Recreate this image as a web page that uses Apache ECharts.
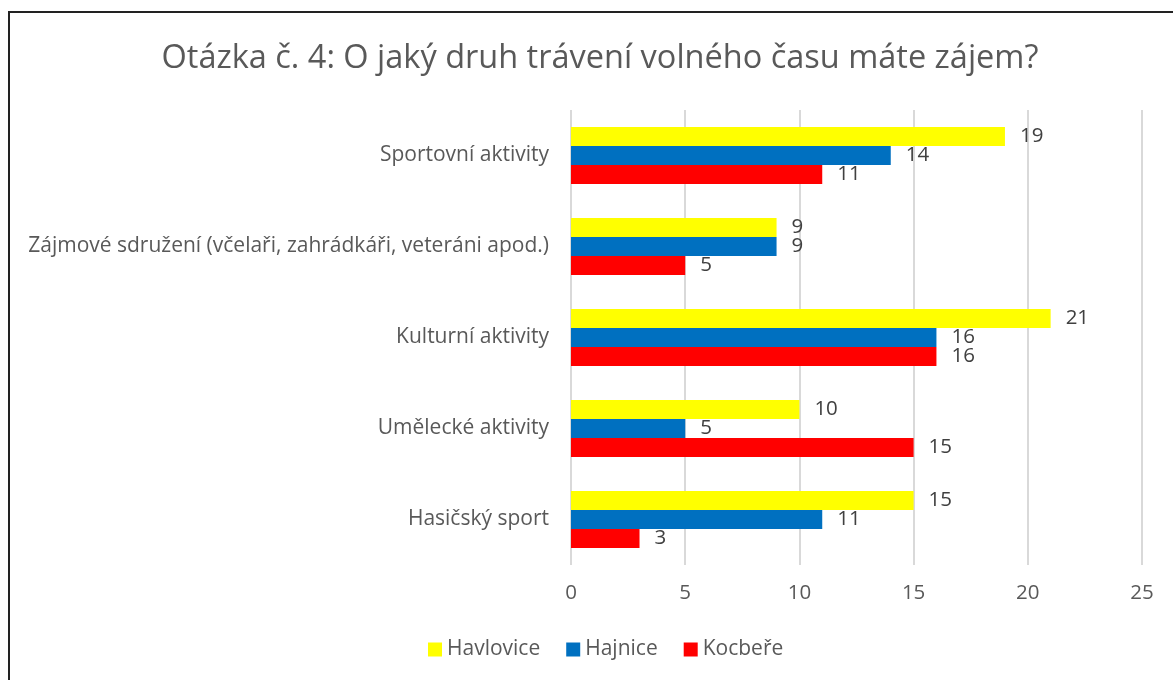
<!DOCTYPE html>
<html>
<head>
<meta charset="utf-8">
<script src="https://cdn.jsdelivr.net/npm/echarts@6/dist/echarts.min.js"></script>
<style>
  html, body { margin: 0; padding: 0; background: #fff; }
  #frame {
    position: absolute; left: 8px; top: 11px; width: 1200px; height: 700px;
    border-left: 2px solid #222; border-top: 2px solid #222;
  }
  #chart { position: absolute; left: 0; top: 0; width: 1173px; height: 680px; }
</style>
</head>
<body>
<div id="frame"></div>
<div id="chart"></div>
<script>
const categories = [
  'Sportovní aktivity',
  'Zájmové sdružení (včelaři, zahrádkáři, veteráni apod.)',
  'Kulturní aktivity',
  'Umělecké aktivity',
  'Hasičský sport'
]
const havlovice = [19, 9, 21, 10, 15]
const hajnice = [14, 9, 16, 5, 11]
const kocbere = [11, 5, 16, 15, 3]

const FONT = '"Open Sans", "Noto Sans", sans-serif'
const TEXT = '#595959'

const chart = echarts.init(document.getElementById('chart'))

const mkSeries = (name, data, color) => ({
  name,
  type: 'bar',
  data,
  barWidth: 19,
  barGap: '0%',
  itemStyle: { color },
  label: {
    show: true,
    position: 'right',
    distance: 15,
    color: '#404040',
    fontSize: 20.5,
    fontFamily: FONT
  }
})

chart.setOption({
  animation: false,
  textStyle: { fontFamily: FONT },
  title: {
    text: 'Otázka č. 4: O jaký druh trávení volného času máte zájem?',
    left: 595,
    top: 37,
    textAlign: 'center',
    textStyle: { color: TEXT, fontSize: 32.5, fontWeight: 'normal', fontFamily: FONT }
  },
  legend: {
    bottom: 15,
    left: 423,
    itemWidth: 14,
    itemHeight: 14,
    itemGap: 26,
    icon: 'rect',
    textStyle: { color: TEXT, fontSize: 21, fontFamily: FONT },
    data: ['Havlovice', 'Hajnice', 'Kocbeře']
  },
  grid: { left: 571, right: 31, top: 110, bottom: 115 },
  xAxis: {
    type: 'value',
    min: 0,
    max: 25,
    interval: 5,
    axisLine: { show: false },
    axisTick: { show: false },
    splitLine: { lineStyle: { color: '#d9d9d9', width: 2 } },
    axisLabel: { color: TEXT, fontSize: 20.5, margin: 18, fontFamily: FONT }
  },
  yAxis: {
    type: 'category',
    data: categories,
    inverse: true,
    axisLine: { show: false },
    axisTick: { show: false },
    axisLabel: { color: TEXT, fontSize: 21, margin: 22, fontFamily: FONT }
  },
  series: [
    mkSeries('Havlovice', havlovice, '#FFFF00'),
    mkSeries('Hajnice', hajnice, '#0070C0'),
    mkSeries('Kocbeře', kocbere, '#FF0000')
  ]
})
</script>
</body>
</html>
